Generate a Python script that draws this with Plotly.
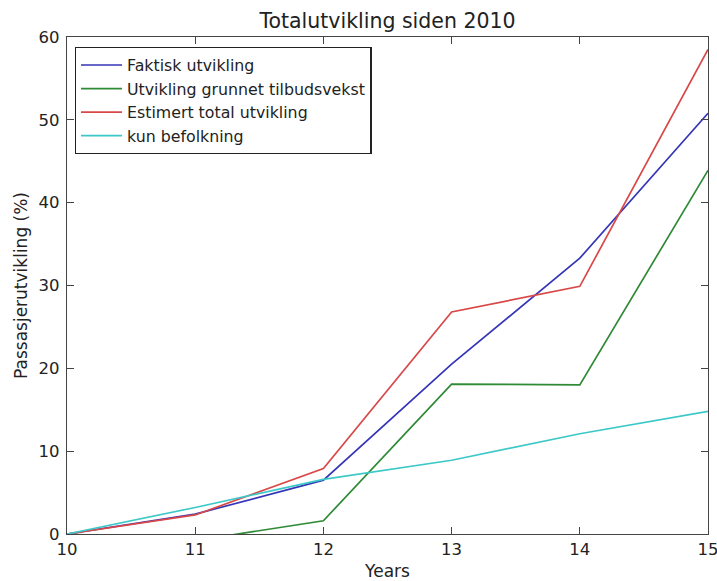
import plotly.graph_objects as go

years = [10, 11, 12, 13, 14, 15]
faktisk = [0.0, 2.4, 6.5, 20.5, 33.3, 50.8]
tilbudsvekst = [0.0, -0.8, 1.6, 18.1, 18.0, 43.9]
estimert = [0.0, 2.3, 7.9, 26.8, 29.9, 58.5]
befolkning = [0.0, 3.2, 6.6, 8.9, 12.1, 14.8]
y_ticks = [0, 10, 20, 30, 40, 50, 60]

series = [
    ("Faktisk utvikling", faktisk, "#3535b8"),
    ("Utvikling grunnet tilbudsvekst", tilbudsvekst, "#2f8a35"),
    ("Estimert total utvikling", estimert, "#d84848"),
    ("kun befolkning", befolkning, "#3cc8c8"),
]

fig = go.Figure()
for name, vals, color in series:
    fig.add_trace(go.Scatter(x=years, y=vals, mode="lines", name=name,
                             line=dict(color=color, width=1.7)))

axis_common = dict(
    showline=True, linecolor="#444444", linewidth=1.3, mirror="ticks",
    ticks="inside", ticklen=7, tickcolor="#444444", showgrid=False,
    zeroline=False, automargin=False, ticklabeloverflow="allow",
    tickfont=dict(size=16.5, color="#222222"),
)

fig.update_layout(
    width=717, height=581,
    margin=dict(l=67, r=9, t=37, b=47),
    paper_bgcolor="white", plot_bgcolor="white",
    font=dict(family="DejaVu Sans", color="#222222"),
    title=dict(text="Totalutvikling siden 2010", xref="paper", x=0.5, xanchor="center",
               yref="container", y=1 - 21 / 581, yanchor="middle", font=dict(size=20.5)),
    xaxis=dict(range=[10, 15], tickvals=years,
               title=dict(text="Years", font=dict(size=17), standoff=7),
               **axis_common),
    yaxis=dict(range=[0, 60], tickvals=y_ticks, ticklabelstandoff=3,
               title=dict(text="Passasjerutvikling (%)", font=dict(size=17), standoff=6),
               **axis_common),
    legend=dict(x=0.012, y=0.98, xanchor="left", yanchor="top",
                bordercolor="#222222", borderwidth=1.3, bgcolor="white",
                font=dict(size=15.8), itemwidth=41),
    showlegend=True,
)

fig.write_html("out.html")
